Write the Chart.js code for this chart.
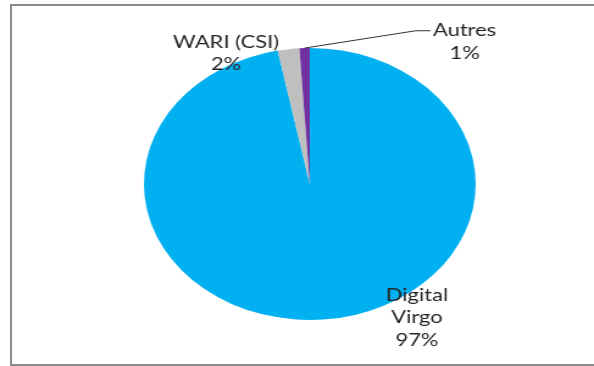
<!DOCTYPE html>
<html>
<head>
<meta charset="utf-8">
<script src="https://cdn.jsdelivr.net/npm/chart.js@4/dist/chart.umd.min.js"></script>
<style>
  html, body { margin:0; padding:0; background:#fff; overflow:hidden; }
  body { width:594px; height:366px; position:relative; }
  /* l'image d'origine est étirée horizontalement : on reproduit l'étirement */
  #wrap { position:absolute; left:0; top:0; width:487px; height:366px;
          transform:scaleX(1.2197); transform-origin:0 0; }
  #cadre { position:absolute; left:10px; top:4px; width:640px; height:362px;
           box-sizing:border-box; border:2px solid #8c8c8c; }
</style>
</head>
<body>
<div id="cadre"></div>
<div id="wrap"><canvas id="pie"></canvas></div>
<script>
// données
const categories = ['Digital Virgo', 'WARI (CSI)', 'Autres'];
const parts = [96.9, 2.1, 1.0];
const couleurs = ['#00B0F0', '#BFBFBF', '#7030A0'];
// lignes de chaque étiquette (le % est ajouté à la fin)
const lignesEtiquettes = [['Digital', 'Virgo'], ['WARI (CSI)'], ['Autres']];

// emplacement des étiquettes, en fraction du rayon depuis le centre
const posEtiquettes = [
  { dx: 0.646, y0: 0.857, pas: 0.167 },
  { dx: -0.505, y0: -1.0, pas: 0.165 },
  { dx: 0.933, y0: -1.087, pas: 0.17, ligne: true }
];

const etiquettes = {
  id: 'etiquettes',
  afterDraw(chart) {
    const ctx = chart.ctx;
    const arcs = chart.getDatasetMeta(0).data;
    const cx = arcs[0].x, cy = arcs[0].y, r = arcs[0].outerRadius;
    const total = parts.reduce((a, b) => a + b, 0);
    ctx.save();
    ctx.font = '18px Lato';
    ctx.fillStyle = '#262626';
    ctx.textAlign = 'center';
    ctx.textBaseline = 'alphabetic';
    arcs.forEach((arc, i) => {
      const p = posEtiquettes[i];
      const lignes = lignesEtiquettes[i].concat([Math.round(parts[i] / total * 100) + '%']);
      const x = cx + p.dx * r;
      lignes.forEach((t, k) => ctx.fillText(t, x, cy + (p.y0 + k * p.pas) * r));
      if (p.ligne) {
        const mid = (arc.startAngle + arc.endAngle) / 2;
        const w = ctx.measureText(lignes[0]).width;
        const ly = cy + (p.y0 - 0.04) * r;
        ctx.beginPath();
        ctx.strokeStyle = '#303030';
        ctx.lineWidth = 1;
        ctx.moveTo(x - w / 2 - 2, ly);
        ctx.lineTo(x - w / 2 - 14, ly);
        ctx.lineTo(cx + Math.cos(mid) * r, cy + Math.sin(mid) * r);
        ctx.stroke();
      }
    });
    ctx.restore();
  }
};

new Chart(document.getElementById('pie'), {
  type: 'pie',
  data: {
    labels: categories,
    datasets: [{ data: parts, backgroundColor: couleurs, borderWidth: 0, offset: 0, hoverOffset: 0 }]
  },
  options: {
    responsive: true,
    maintainAspectRatio: false,
    animation: false,
    layout: { padding: { left: 118, right: 97, top: 48, bottom: 46 } },
    plugins: { legend: { display: false }, tooltip: { enabled: false } }
  },
  plugins: [etiquettes]
});
</script>
</body>
</html>
